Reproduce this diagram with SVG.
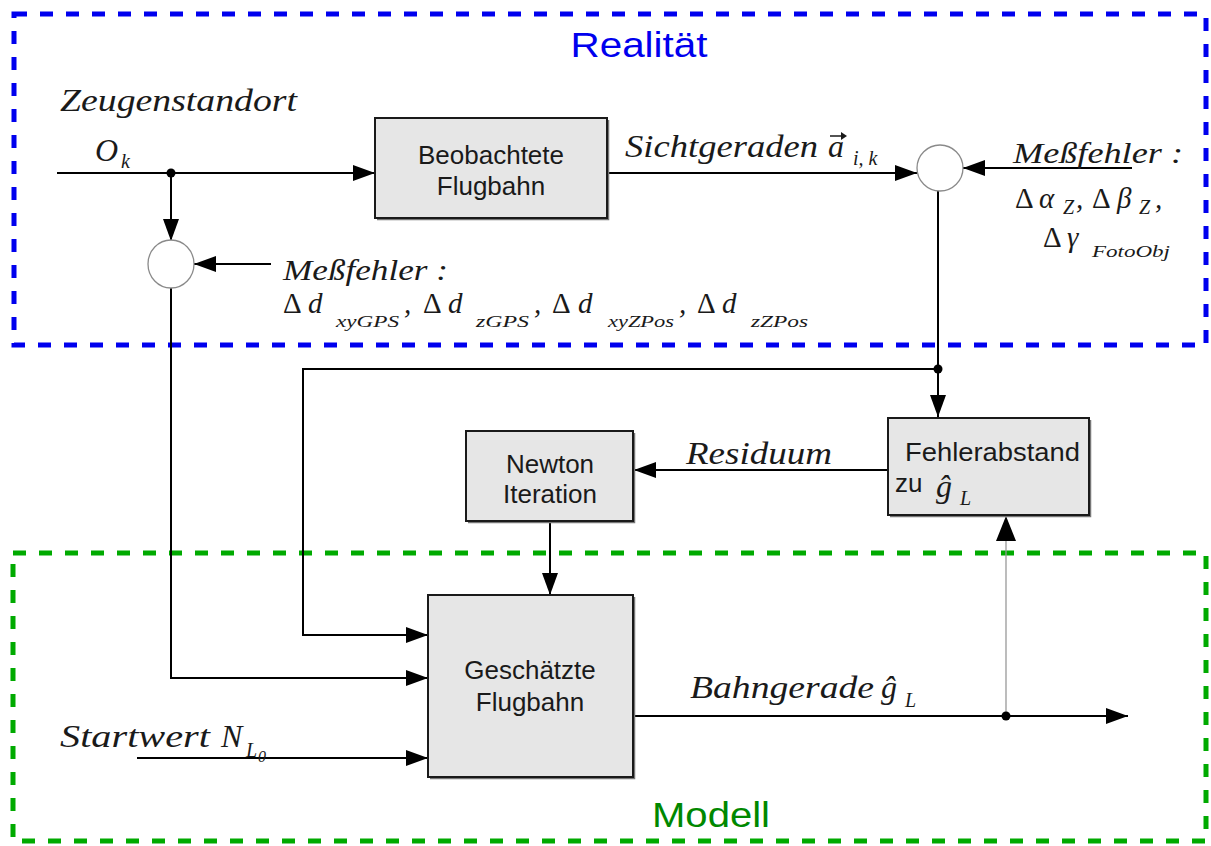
<svg xmlns="http://www.w3.org/2000/svg" width="1211" height="846" viewBox="0 0 1211 846">
<defs>
<marker id="ah" viewBox="0 0 22 16" refX="22" refY="8" markerWidth="22" markerHeight="16" markerUnits="userSpaceOnUse" orient="auto">
<path d="M0,0 L22,8 L0,16 Z" fill="#000"/>
</marker>
</defs>
<style>
.box{fill:#e6e6e6;stroke:#1a1a1a;stroke-width:2}
.shadow{fill:none;stroke:#777;stroke-width:1.5}
.sum{fill:#fff;stroke:#8a8a8a;stroke-width:1.3}
.ln{fill:none;stroke:#000;stroke-width:2}
.thin{fill:none;stroke:#999;stroke-width:1.3}
.sans{font-family:"Liberation Sans",Arial,sans-serif;font-size:26px;fill:#1a1a1a}
.mi{font-family:"Liberation Serif","Times New Roman",serif;font-style:italic;font-size:32px;fill:#1a1a1a}
.ms{font-family:"Liberation Serif","Times New Roman",serif;font-style:italic;font-size:29px;fill:#1a1a1a}
.up{font-family:"Liberation Serif","Times New Roman",serif;font-style:normal;font-size:29px;fill:#1a1a1a}
.sub{font-family:"Liberation Serif","Times New Roman",serif;font-style:italic;font-size:20px;fill:#1a1a1a}
.ssub{font-family:"Liberation Serif","Times New Roman",serif;font-style:italic;font-size:16px;fill:#1a1a1a}
.region-b{fill:none;stroke:#0000ee;stroke-width:5;stroke-dasharray:13 13}
.region-g{fill:none;stroke:#00aa00;stroke-width:5;stroke-dasharray:13 13}
</style>
<g id="region-realitaet">
<rect class="region-b" x="14" y="14" width="1192" height="331"/>
<text x="639" y="57" text-anchor="middle" font-family="'Liberation Sans',Arial,sans-serif" font-size="35" fill="#0000ee" textLength="137" lengthAdjust="spacingAndGlyphs">Realität</text>
</g>
<g id="region-modell">
<rect class="region-g" x="13" y="553" width="1193" height="288"/>
<text x="711" y="827" text-anchor="middle" font-family="'Liberation Sans',Arial,sans-serif" font-size="35" fill="#008800" textLength="118" lengthAdjust="spacingAndGlyphs">Modell</text>
</g>
<g id="connectors">
<path class="ln" d="M57,173 L375,173" marker-end="url(#ah)"/>
<path class="ln" d="M171,173 L171,241" marker-end="url(#ah)"/>
<path class="ln" d="M271,264 L194,264" marker-end="url(#ah)"/>
<path class="ln" d="M171,288 L171,678 L428,678" marker-end="url(#ah)"/>
<path class="ln" d="M607,173 L917,173" marker-end="url(#ah)"/>
<path class="ln" d="M1132,168 L963,168" marker-end="url(#ah)"/>
<path class="ln" d="M938,191 L938,417" marker-end="url(#ah)"/>
<path class="ln" d="M938,369 L303,369 L303,635 L428,635" marker-end="url(#ah)"/>
<path class="ln" d="M888,470 L634,470" marker-end="url(#ah)"/>
<path class="ln" d="M550,521 L550,595" marker-end="url(#ah)"/>
<path class="ln" d="M137,758 L428,758" marker-end="url(#ah)"/>
<path class="ln" d="M633,716 L1128,716" marker-end="url(#ah)"/>
<path class="thin" d="M1006,716 L1006,540"/>
<path d="M996,541 L1006,516 L1016,541 Z" fill="#000"/>
<circle cx="171" cy="173" r="4.5" fill="#000"/>
<circle cx="938" cy="369" r="4.5" fill="#000"/>
<circle cx="1006" cy="716" r="4.5" fill="#000"/>
</g>
<g id="beobachtete">
<path class="shadow" d="M377,219.5 L608.5,219.5 L608.5,120"/>
<rect class="box" x="375" y="118" width="232" height="100"/>
<text class="sans" x="491" y="164" text-anchor="middle">Beobachtete</text>
<text class="sans" x="491" y="195" text-anchor="middle">Flugbahn</text>
</g>
<g id="sum-left">
<ellipse class="sum" cx="171" cy="264" rx="23" ry="24"/>
</g>
<g id="sum-right">
<ellipse class="sum" cx="940" cy="168" rx="23" ry="23"/>
</g>
<g id="fehlerabstand">
<path class="shadow" d="M890,516.5 L1090.5,516.5 L1090.5,420"/>
<rect class="box" x="888" y="418" width="201" height="97"/>
<text class="sans" x="905" y="461" textLength="175" lengthAdjust="spacingAndGlyphs">Fehlerabstand</text>
<text class="sans" x="895" y="492">zu</text>
<text class="mi" x="936" y="497" font-size="30">ĝ</text>
<text class="sub" x="960" y="505">L</text>
</g>
<g id="newton">
<path class="shadow" d="M468,522.5 L634.5,522.5 L634.5,433"/>
<rect class="box" x="466" y="431" width="167" height="90"/>
<text class="sans" x="550" y="473" text-anchor="middle">Newton</text>
<text class="sans" x="550" y="503" text-anchor="middle">Iteration</text>
</g>
<g id="geschaetzte">
<path class="shadow" d="M430,778.5 L634.5,778.5 L634.5,597"/>
<rect class="box" x="428" y="595" width="205" height="182"/>
<text class="sans" x="530" y="679" text-anchor="middle">Geschätzte</text>
<text class="sans" x="530" y="711" text-anchor="middle">Flugbahn</text>
</g>
<g id="labels">
<text class="mi" x="60" y="111" textLength="237" lengthAdjust="spacingAndGlyphs">Zeugenstandort</text>
<text class="mi" x="95" y="161">O</text>
<text class="sub" x="121" y="168">k</text>
<text class="mi" x="625" y="157" textLength="193" lengthAdjust="spacingAndGlyphs">Sichtgeraden</text>
<text class="mi" x="828" y="157">a</text>
<text class="sub" x="853" y="165">i, k</text>
<path d="M830,136 L845,136" stroke="#1a1a1a" stroke-width="1.5"/>
<path d="M841,132 L847,136 L841,140 Z" fill="#1a1a1a"/>
<text class="ms" x="1013" y="163" textLength="170" lengthAdjust="spacingAndGlyphs">Meßfehler :</text>
<text class="up" x="1015" y="208">Δ</text>
<text class="ms" x="1039" y="208">α</text>
<text class="sub" x="1063" y="214" font-size="18">Z</text>
<text class="ms" x="1076" y="208">,</text>
<text class="up" x="1092" y="208">Δ</text>
<text class="ms" x="1117" y="208">β</text>
<text class="sub" x="1139" y="214" font-size="18">Z</text>
<text class="ms" x="1155" y="208">,</text>
<text class="up" x="1043" y="247">Δ</text>
<text class="ms" x="1067" y="247">γ</text>
<text class="ssub" x="1092" y="257" textLength="78" lengthAdjust="spacingAndGlyphs">FotoObj</text>
<text class="ms" x="283" y="280" textLength="165" lengthAdjust="spacingAndGlyphs">Meßfehler :</text>
<text class="up" x="283" y="313">Δ</text>
<text class="ms" x="308" y="313">d</text>
<text class="ssub" x="336" y="327" textLength="63" lengthAdjust="spacingAndGlyphs">xyGPS</text>
<text class="ms" x="404" y="313">,</text>
<text class="up" x="423" y="313">Δ</text>
<text class="ms" x="448" y="313">d</text>
<text class="ssub" x="476" y="327" textLength="53" lengthAdjust="spacingAndGlyphs">zGPS</text>
<text class="ms" x="534" y="313">,</text>
<text class="up" x="552" y="313">Δ</text>
<text class="ms" x="578" y="313">d</text>
<text class="ssub" x="608" y="327" textLength="66" lengthAdjust="spacingAndGlyphs">xyZPos</text>
<text class="ms" x="679" y="313">,</text>
<text class="up" x="697" y="313">Δ</text>
<text class="ms" x="722" y="313">d</text>
<text class="ssub" x="751" y="327" textLength="57" lengthAdjust="spacingAndGlyphs">zZPos</text>
<text class="mi" x="686" y="464" textLength="146" lengthAdjust="spacingAndGlyphs">Residuum</text>
<text class="mi" x="690" y="698" textLength="184" lengthAdjust="spacingAndGlyphs">Bahngerade</text>
<text class="mi" x="881" y="698">ĝ</text>
<text class="sub" x="905" y="707">L</text>
<text class="mi" x="60" y="747" textLength="150" lengthAdjust="spacingAndGlyphs">Startwert</text>
<text class="mi" x="221" y="747">N</text>
<text class="sub" x="246" y="757">L</text>
<text class="ssub" x="258" y="762" font-size="10">0</text>
</g>
</svg>
